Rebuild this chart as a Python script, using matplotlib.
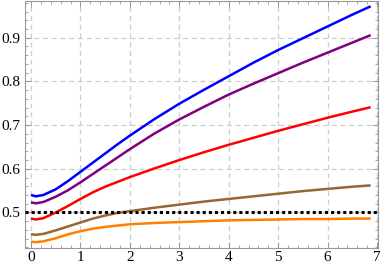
import numpy as np
import matplotlib.pyplot as plt
from matplotlib.ticker import MultipleLocator

# --- Data ---
t = [0, 0.1, 0.25, 0.5, 0.75, 1, 1.25, 1.5, 1.75, 2, 2.5, 3, 3.5, 4, 4.5, 5, 5.5, 6, 6.5, 6.87]

blue = [0.540, 0.537, 0.540, 0.553, 0.572, 0.593, 0.614, 0.635, 0.656, 0.676,
        0.714, 0.749, 0.781, 0.812, 0.843, 0.872, 0.899, 0.926, 0.953, 0.972]
purple = [0.523, 0.521, 0.524, 0.536, 0.551, 0.569, 0.588, 0.607, 0.626, 0.645,
          0.681, 0.713, 0.742, 0.770, 0.795, 0.819, 0.843, 0.866, 0.889, 0.906]
red = [0.486, 0.484, 0.487, 0.500, 0.515, 0.531, 0.546, 0.559, 0.570, 0.581,
       0.601, 0.620, 0.638, 0.655, 0.671, 0.687, 0.702, 0.717, 0.731, 0.741]
brown = [0.450, 0.449, 0.451, 0.459, 0.468, 0.477, 0.486, 0.493, 0.499, 0.503,
         0.511, 0.518, 0.525, 0.531, 0.537, 0.543, 0.549, 0.554, 0.559, 0.562]
orange = [0.433, 0.432, 0.434, 0.441, 0.450, 0.457, 0.463, 0.467, 0.470, 0.473,
          0.476, 0.478, 0.480, 0.482, 0.483, 0.484, 0.485, 0.485, 0.486, 0.486]

threshold = 0.5

series = [
    (blue, (0, 0, 1)),
    (purple, (0.5, 0, 0.5)),
    (red, (1, 0, 0)),
    (brown, (0.6, 0.4, 0.2)),
    (orange, (1, 0.5, 0)),
]

plt.rcParams['font.family'] = ['Liberation Serif', 'DejaVu Serif']

fig = plt.figure(figsize=(3.82, 2.68), dpi=100)
ax = fig.add_axes([0.0654, 0.0735, 0.924, 0.9225])

for vals, col in series:
    ax.plot(t, vals, color=col, lw=1.8, solid_capstyle='butt',
            solid_joinstyle='round', zorder=3)

ax.axhline(threshold, color='black', lw=2.2, linestyle=(0, (1, 1)), zorder=4)

ax.set_xlim(-0.121, 7.017)
ax.set_ylim(0.418, 0.984)

ax.xaxis.set_major_locator(MultipleLocator(1))
ax.xaxis.set_minor_locator(MultipleLocator(0.2))
ax.yaxis.set_major_locator(MultipleLocator(0.1))
ax.yaxis.set_minor_locator(MultipleLocator(0.02))
ax.set_yticks([0.5, 0.6, 0.7, 0.8, 0.9])
ax.set_yticklabels(['0.5', '0.6', '0.7', '0.8', '0.9'])

ax.grid(True, which='major', color='#cccccc', linestyle=(0, (4, 3)), lw=0.9)
ax.tick_params(which='both', direction='in', top=True, right=True,
               color='#999999', labelsize=11, labelcolor='black')
ax.tick_params(which='major', length=4.5, width=0.7)
ax.tick_params(which='minor', length=2.5, width=0.6)
ax.tick_params(axis='y', pad=3)
ax.tick_params(axis='x', pad=2)
for s in ax.spines.values():
    s.set_color('#999999')
    s.set_linewidth(0.8)

fig.savefig('out.png', dpi=100)
